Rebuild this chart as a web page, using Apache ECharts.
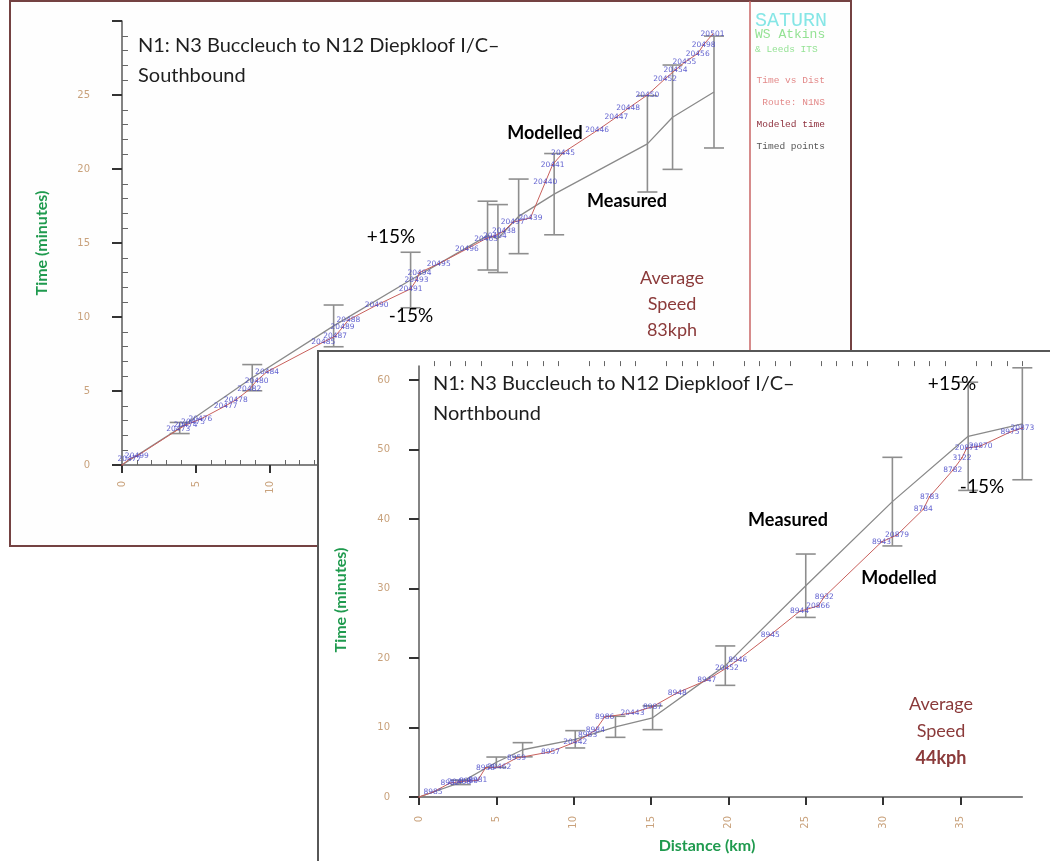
<!DOCTYPE html>
<html><head><meta charset="utf-8">
<script src="https://cdn.jsdelivr.net/npm/echarts/dist/echarts.min.js"></script>
<style>
html,body{margin:0;padding:0;background:#fff;width:1050px;height:861px;overflow:hidden}
#top,#bot{position:absolute;left:0;top:0;width:1050px;height:861px}
</style></head><body>
<div id="top"></div><div id="bot"></div>
<script>
// ---------- Southbound (upper panel) ----------
const sbModDist = [0, 0.5, 1.0, 3.8, 4.3, 4.8, 5.3, 7.0, 7.7, 8.6, 9.1, 9.8, 13.6, 14.4, 14.9, 15.3, 17.2, 19.5, 19.9, 20.1, 21.4, 23.3, 24.6, 25.2, 25.8, 26.4, 27.6, 28.6, 29.1, 29.8, 32.1, 33.4, 34.2, 35.5, 36.7, 37.4, 38.0, 38.9, 39.3, 39.9];
const sbModTime = [0, 0.4, 0.6, 2.4, 2.7, 2.9, 3.1, 4.0, 4.4, 5.1, 5.7, 6.3, 8.3, 8.7, 9.3, 9.8, 10.8, 11.9, 12.5, 13.0, 13.6, 14.6, 15.3, 15.5, 15.8, 16.4, 16.7, 19.1, 20.3, 21.1, 22.6, 23.5, 24.1, 25.0, 26.1, 26.7, 27.2, 27.8, 28.4, 29.1];
const sbModIds  = ['', '20477', '20499', '20473', '20474', '20475', '20476', '20477', '20478', '20482', '20480', '20484', '20485', '20487', '20489', '20488', '20490', '20491', '20493', '20494', '20495', '20496', '20465', '20464', '20438', '20497', '20439', '20440', '20441', '20445', '20446', '20447', '20448', '20450', '20452', '20454', '20455', '20456', '20498', '20501'];
const sbMeasDist = [0, 3.9, 8.8, 14.3, 19.5, 24.7, 25.4, 26.8, 29.2, 35.5, 37.2, 40.0];
const sbMeasTime = [0, 2.5, 5.9, 9.4, 12.5, 15.5, 15.3, 16.8, 18.3, 21.7, 23.5, 25.2];
const sbTimeTicks = [0, 5, 10, 15, 20, 25, 30];
const sbTimeMinor = [1,2,3,4,6,7,8,9,11,12,13,14,16,17,18,19,21,22,23,24,26,27,28,29];
const sbDistTicks = [0, 5, 10, 15, 20, 25, 30, 35, 40];
const sbDistMinor = [1,2,3,4,6,7,8,9,11,12,13,14,16,17,18,19,21,22,23,24,26,27,28,29,31,32,33,34,36,37,38,39,41];

// ---------- Northbound (lower panel) ----------
const nbModDist = [0, 0.9, 2.0, 2.6, 3.2, 3.8, 4.3, 5.2, 6.3, 8.5, 10.1, 10.9, 11.4, 12.0, 13.8, 15.1, 16.7, 18.6, 19.9, 20.6, 22.7, 24.6, 25.8, 26.2, 29.9, 30.9, 32.6, 33.0, 34.5, 35.1, 35.4, 36.3, 38.2, 39.0];
const nbModTime = [0, 0.7, 2.0, 2.2, 2.3, 2.4, 4.2, 4.3, 5.6, 6.5, 7.9, 8.9, 9.6, 11.5, 12.1, 13.0, 15.0, 16.8, 18.6, 19.7, 23.3, 26.7, 27.5, 28.8, 36.7, 37.7, 41.4, 43.2, 47.0, 48.8, 50.2, 50.5, 52.5, 53.1];
const nbModIds  = ['', '8985', '8982', '20468', '8980', '8981', '8958', '20462', '8959', '8957', '20442', '8983', '8984', '8986', '20443', '8987', '8948', '8947', '20452', '8946', '8945', '8944', '20866', '8932', '8943', '20879', '8784', '8783', '8782', '3122', '20871', '20870', '8975', '20873'];
const nbMeasDist = [0, 2.7, 5.0, 6.7, 10.1, 12.7, 15.1, 19.8, 25.0, 30.6, 35.5, 39.0];
const nbMeasTime = [0, 2.1, 5.0, 6.8, 8.3, 10.1, 11.4, 18.9, 30.4, 42.5, 51.9, 53.7];
const nbTimeTicks = [0, 10, 20, 30, 40, 50, 60];
const nbDistTicks = [0, 5, 10, 15, 20, 25, 30, 35];
const nbDistMinor = [1,2,3,4,6,7,8,9,11,12,13,14,16,17,18,19,21,22,23,24,26,27,28,29,31,32,33,34,36,37,38,39];

const errPct = 0.15;
const TICKFONT = 'DejaVu Sans';
const MAINFONT = 'Lato';
const MONO = 'Liberation Mono';

function errSeries(dist, time, cap) {
  return {
    type: 'custom', z: 2, silent: true,
    data: dist.map((d, i) => [d, time[i]]).filter(p => p[1] > 0),
    renderItem: function (params, api) {
      const x = api.value(0), y = api.value(1);
      const hi = api.coord([x, y * (1 + errPct)]);
      const lo = api.coord([x, y * (1 - errPct)]);
      const st = { stroke: '#8e8e8e', lineWidth: 1.6 };
      return { type: 'group', children: [
        { type: 'line', shape: { x1: hi[0], y1: hi[1], x2: lo[0], y2: lo[1] }, style: st },
        { type: 'line', shape: { x1: hi[0] - cap, y1: hi[1], x2: hi[0] + cap, y2: hi[1] }, style: st },
        { type: 'line', shape: { x1: lo[0] - cap, y1: lo[1], x2: lo[0] + cap, y2: lo[1] }, style: st }
      ]};
    }
  };
}
function modSeries(dist, time, ids) {
  return {
    type: 'line', z: 4, silent: true,
    data: dist.map((d, i) => ({ value: [d, time[i]], name: ids[i] })),
    symbol: 'circle', symbolSize: 1.5, itemStyle: { color: '#c0504d' },
    lineStyle: { color: '#c8605c', width: 1 },
    label: { show: true, position: 'inside', formatter: p => p.name,
      fontSize: 7.5, fontFamily: TICKFONT, color: 'rgba(70,70,200,0.85)' },
    labelLayout: { hideOverlap: false }
  };
}
function measSeries(dist, time) {
  return {
    type: 'line', z: 3, silent: true,
    data: dist.map((d, i) => [d, time[i]]),
    symbol: 'none', lineStyle: { color: '#8a8a8a', width: 1.3 }
  };
}
function majorAxis(min, max, ticks, margin, tickLen, rotate) {
  return {
    type: 'value', min: min, max: max, gridIndex: 0,
    splitLine: { show: false },
    axisLine: { show: true, lineStyle: { color: '#5a5a5a', width: 1.5 } },
    axisTick: { show: true, length: tickLen, customValues: ticks, lineStyle: { color: '#333', width: 2 } },
    axisLabel: { show: true, customValues: ticks.filter(v => v < max), margin: margin, rotate: rotate,
      fontSize: 10, fontFamily: TICKFONT, color: '#c9a27c' },
    minorTick: { show: false }
  };
}
function minorAxis(min, max, ticks, len) {
  return {
    type: 'value', min: min, max: max, gridIndex: 0,
    splitLine: { show: false },
    axisLine: { show: false },
    axisTick: { show: true, length: len, customValues: ticks, lineStyle: { color: '#666', width: 1 } },
    axisLabel: { show: false }
  };
}
function txt(text, x, y, size, color, extra) {
  return Object.assign({ type: 'text', x: x, y: y, silent: true, z: 100,
    style: Object.assign({ text: text, fontSize: size, fontFamily: MAINFONT, fill: color,
      align: 'center', verticalAlign: 'middle' }, extra && extra.style || {}) },
    extra && extra.el || {});
}
const BOLD = { style: { fontWeight: 'bold' } };

// ---------------- upper chart ----------------
const topChart = echarts.init(document.getElementById('top'), null, { renderer: 'canvas' });
const sbX0 = 122, sbY0 = 465, sbPx = 14.8, sbXMax = 42, sbYMax = 30;
topChart.setOption({
  animation: false,
  grid: { left: sbX0, top: sbY0 - sbYMax * sbPx, width: sbXMax * sbPx, height: sbYMax * sbPx,
    containLabel: false, outerBoundsMode: 'none' },
  xAxis: [ majorAxis(0, sbXMax, sbDistTicks, 16, 8, 90),
           minorAxis(0, sbXMax, sbDistMinor, 5) ],
  yAxis: [ majorAxis(0, sbYMax, sbTimeTicks, 32, 10, 0),
           minorAxis(0, sbYMax, sbTimeMinor, 6) ],
  graphic: [
    { type: 'rect', z: -10, silent: true, shape: { x: 10, y: 1, width: 841, height: 545 },
      style: { fill: '#fefefe', stroke: '#744242', lineWidth: 2 } },
    { type: 'line', z: -5, silent: true, shape: { x1: 750, y1: 1, x2: 750, y2: 546 },
      style: { stroke: '#c86464', lineWidth: 1.5 } },
    txt('N1: N3 Buccleuch to N12 Diepkloof I/C–\nSouthbound', 138, 31, 20, '#1e1e1e',
      { style: { align: 'left', verticalAlign: 'top', lineHeight: 30 } }),
    txt('Time (minutes)', 42, 243, 16, '#1f9a4e', { style: { fontWeight: 'bold' }, el: { rotation: Math.PI / 2 } }),
    txt('Modelled', 545, 133, 18, '#000', BOLD),
    txt('Measured', 627, 201, 18, '#000', BOLD),
    txt('+15%', 391, 237, 19, '#000'),
    txt('-15%', 411, 316, 19, '#000'),
    txt('Average\nSpeed\n83kph', 672, 304, 18, '#8b3a3a', { style: { lineHeight: 26 } }),
    txt('SATURN', 755, 21, 20, '#86e6e6', { style: { align: 'left', fontFamily: MONO } }),
    txt('WS Atkins', 755, 35, 13, '#94e294', { style: { align: 'left', fontFamily: MONO } }),
    txt('& Leeds ITS', 755, 49, 9.5, '#94e294', { style: { align: 'left', fontFamily: MONO } }),
    txt('Time vs Dist', 825, 80, 9.5, '#e38a8a', { style: { align: 'right', fontFamily: MONO } }),
    txt('Route: N1NS', 825, 102, 9.5, '#e38a8a', { style: { align: 'right', fontFamily: MONO } }),
    txt('Modeled time', 825, 124, 9.5, '#8e2f3c', { style: { align: 'right', fontFamily: MONO } }),
    txt('Timed points', 825, 146, 9.5, '#555555', { style: { align: 'right', fontFamily: MONO } })
  ],
  series: [ errSeries(sbMeasDist, sbMeasTime, 10), measSeries(sbMeasDist, sbMeasTime),
            modSeries(sbModDist, sbModTime, sbModIds) ]
});

// ---------------- lower chart ----------------
const botChart = echarts.init(document.getElementById('bot'), null, { renderer: 'canvas' });
const nbX0 = 419, nbY0 = 797, nbPxX = 15.47, nbPxY = 6.95, nbXMax = 39, nbYMax = 62;
botChart.setOption({
  animation: false,
  grid: { left: nbX0, top: nbY0 - nbYMax * nbPxY, width: nbXMax * nbPxX, height: nbYMax * nbPxY,
    containLabel: false, outerBoundsMode: 'none' },
  xAxis: [ majorAxis(0, nbXMax, nbDistTicks, 19, 8, 90),
           minorAxis(0, nbXMax, nbDistMinor, 5) ],
  yAxis: [ majorAxis(0, nbYMax, nbTimeTicks, 29, 10, 0) ],
  graphic: [
    { type: 'rect', z: -10, silent: true, shape: { x: 318, y: 351, width: 740, height: 530 },
      style: { fill: '#ffffff', stroke: '#575757', lineWidth: 2 } },
    txt('N1: N3 Buccleuch to N12 Diepkloof I/C–\nNorthbound', 433, 369, 20, '#1e1e1e',
      { style: { align: 'left', verticalAlign: 'top', lineHeight: 30 } }),
    txt('Time (minutes)', 341, 600, 16, '#1f9a4e', { style: { fontWeight: 'bold' }, el: { rotation: Math.PI / 2 } }),
    txt('Distance (km)', 707, 846, 16, '#1f9a4e', BOLD),
    txt('+15%', 952, 384, 19, '#000'),
    txt('-15%', 982, 487, 19, '#000'),
    txt('Measured', 788, 520, 18, '#000', BOLD),
    txt('Modelled', 899, 578, 18, '#000', BOLD),
    txt('Average\nSpeed', 941, 718, 18, '#8b3a3a', { style: { lineHeight: 27 } }),
    txt('44kph', 941, 758, 18, '#8b3a3a', BOLD)
  ],
  series: [ errSeries(nbMeasDist, nbMeasTime, 10), measSeries(nbMeasDist, nbMeasTime),
            modSeries(nbModDist, nbModTime, nbModIds) ]
});
</script>
</body></html>
